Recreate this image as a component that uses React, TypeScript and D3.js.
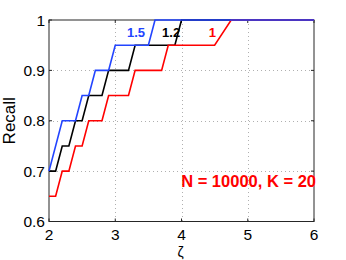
import React, { useRef, useEffect } from 'react';
import * as d3 from 'd3';

// breakpoints of each recall curve (zeta, recall)
const zetaRed = [2, 2.1, 2.2, 2.3, 2.4, 2.5, 2.6, 2.8, 2.9, 3.2, 3.3, 3.7, 3.8, 4.5, 4.75, 6];
const recallRed = [0.65, 0.65, 0.7, 0.7, 0.75, 0.75, 0.8, 0.8, 0.85, 0.85, 0.9, 0.9, 0.95, 0.95, 1, 1];

const zetaBlack = [2, 2.1, 2.2, 2.3, 2.4, 2.5, 2.6, 2.8, 2.9, 3.2, 3.3, 3.9, 4.0, 6];
const recallBlack = [0.7, 0.7, 0.75, 0.75, 0.8, 0.8, 0.85, 0.85, 0.9, 0.9, 0.95, 0.95, 1, 1];

const zetaBlue = [2, 2.2, 2.4, 2.5, 2.6, 2.7, 2.9, 3.0, 3.5, 3.6, 6];
const recallBlue = [0.7, 0.8, 0.8, 0.85, 0.85, 0.9, 0.9, 0.95, 0.95, 1, 1];

const xTicks = [2, 3, 4, 5, 6];
const yTicks = [0.6, 0.7, 0.8, 0.9, 1];

const series = [
  { name: '1.2', color: '#000000', xs: zetaBlack, ys: recallBlack, labelAt: [3.98, 0.966] },
  { name: '1', color: '#ff0000', xs: zetaRed, ys: recallRed, labelAt: [4.52, 0.966] },
  { name: '1.5', color: '#2244ff', xs: zetaBlue, ys: recallBlue, labelAt: [3.45, 0.966] },
];

export default function App() {
  const ref = useRef<SVGSVGElement>(null);

  useEffect(() => {
    if (!ref.current) return;
    const width = 346;
    const height = 260;
    const margin = { top: 20, right: 32, bottom: 38.5, left: 49 };
    const font = 'Liberation Sans, Arial, Helvetica, sans-serif';

    const svg = d3.select(ref.current);
    svg.selectAll('*').remove();

    const x = d3.scaleLinear().domain([2, 6]).range([margin.left, width - margin.right]);
    const y = d3.scaleLinear().domain([0.6, 1]).range([height - margin.bottom, margin.top]);

    const g = svg.append('g');

    // dotted grid
    g.selectAll('line.gx')
      .data(xTicks.slice(1, -1))
      .join('line')
      .attr('x1', d => Math.round(x(d)) + 0.5)
      .attr('x2', d => Math.round(x(d)) + 0.5)
      .attr('y1', y(1))
      .attr('y2', y(0.6))
      .attr('stroke', '#b0b0b0')
      .attr('stroke-dasharray', '1 3');

    g.selectAll('line.gy')
      .data(yTicks.slice(1, -1))
      .join('line')
      .attr('x1', x(2))
      .attr('x2', x(6))
      .attr('y1', d => Math.round(y(d)) + 0.5)
      .attr('y2', d => Math.round(y(d)) + 0.5)
      .attr('stroke', '#b0b0b0')
      .attr('stroke-dasharray', '1 3');

    // box + ticks
    const axisColor = '#262626';
    g.append('rect')
      .attr('x', x(2))
      .attr('y', y(1))
      .attr('width', x(6) - x(2))
      .attr('height', y(0.6) - y(1))
      .attr('fill', 'none')
      .attr('stroke', axisColor)
      .attr('stroke-width', 1);

    const tl = 3;
    xTicks.forEach(t => {
      g.append('line').attr('x1', x(t)).attr('x2', x(t)).attr('y1', y(0.6)).attr('y2', y(0.6) - tl).attr('stroke', axisColor);
      g.append('line').attr('x1', x(t)).attr('x2', x(t)).attr('y1', y(1)).attr('y2', y(1) + tl).attr('stroke', axisColor);
    });
    yTicks.forEach(t => {
      g.append('line').attr('x1', x(2)).attr('x2', x(2) + tl).attr('y1', y(t)).attr('y2', y(t)).attr('stroke', axisColor);
      g.append('line').attr('x1', x(6)).attr('x2', x(6) - tl).attr('y1', y(t)).attr('y2', y(t)).attr('stroke', axisColor);
    });

    // tick labels
    g.selectAll('text.xt')
      .data(xTicks)
      .join('text')
      .attr('x', d => x(d))
      .attr('y', y(0.6) + 18.5)
      .attr('text-anchor', 'middle')
      .attr('font-family', font)
      .attr('font-size', 15.5)
      .attr('fill', '#000')
      .text(d => d3.format('d')(d));

    g.selectAll('text.yt')
      .data(yTicks)
      .join('text')
      .attr('x', x(2) - 4)
      .attr('y', d => y(d) + 5.5)
      .attr('text-anchor', 'end')
      .attr('font-family', font)
      .attr('font-size', 15.5)
      .attr('fill', '#000')
      .text(d => (d === 1 ? '1' : d3.format('.1f')(d)));

    // axis titles
    g.append('text')
      .attr('transform', `translate(15,${(y(0.6) + y(1)) / 2}) rotate(-90)`)
      .attr('text-anchor', 'middle')
      .attr('font-family', font)
      .attr('font-size', 17)
      .text('Recall');

    g.append('text')
      .attr('x', (x(2) + x(6)) / 2 - 1)
      .attr('y', 256.5)
      .attr('text-anchor', 'middle')
      .attr('font-family', font)
      .attr('font-size', 14)
      .text('ζ');

    // curves
    const line = d3.line<[number, number]>()
      .x(d => x(d[0]))
      .y(d => y(d[1]));

    series.forEach(s => {
      const pts = s.xs.map((v, i) => [v, s.ys[i]] as [number, number]);
      g.append('path')
        .attr('d', line(pts))
        .attr('fill', 'none')
        .attr('stroke', s.color)
        .attr('stroke-width', 1.6)
        .attr('stroke-linejoin', 'miter');
    });

    // curve labels
    series.forEach(s => {
      g.append('text')
        .attr('x', x(s.labelAt[0]))
        .attr('y', y(s.labelAt[1]))
        .attr('text-anchor', 'end')
        .attr('font-family', font)
        .attr('font-size', 13)
        .attr('font-weight', 'bold')
        .attr('fill', s.color)
        .text(s.name);
    });

    g.append('text')
      .attr('x', x(6) + 2)
      .attr('y', y(0.68) + 6)
      .attr('text-anchor', 'end')
      .attr('font-family', font)
      .attr('font-size', 16.5)
      .attr('font-weight', 'bold')
      .attr('fill', '#ff0000')
      .text('N = 10000, K = 20');
  }, []);

  return (
    <svg
      ref={ref}
      width={346}
      height={260}
      style={{ position: 'absolute', left: 0, top: 0, background: '#fff' }}
    />
  );
}
